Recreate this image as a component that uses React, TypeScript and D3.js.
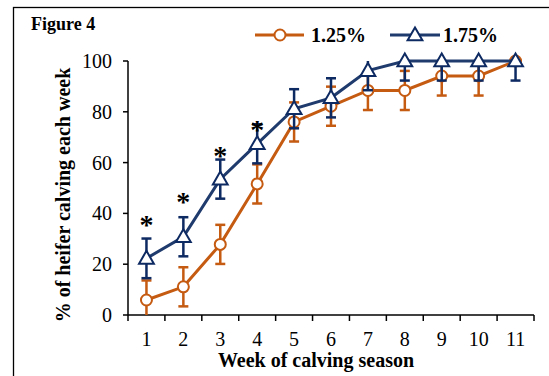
import React from "react";
import * as d3 from "d3";

// weeks of the calving season
const weeks = ["1", "2", "3", "4", "5", "6", "7", "8", "9", "10", "11"];
// cumulative % of heifers calved, 1.25% group
const low = [5.9, 11.1, 27.8, 51.6, 76.0, 82.2, 88.4, 88.4, 94.1, 94.1, 100];
const lowErr = [7.7, 7.7, 7.7, 7.7, 7.7, 7.7, 7.7, 7.7, 7.7, 7.7, 0];
// 1.75% group
const high = [22.3, 30.8, 53.5, 67.4, 81.2, 85.5, 96.2, 100, 100, 100, 100];
const highErr = [7.8, 7.7, 7.7, 7.7, 7.7, 7.7, 7.7, 7.7, 7.7, 7.7, 7.7];
// significance stars (week, height on y scale)
const starWeeks = ["1", "2", "3", "4"];
const starLevels = [37.5, 46.5, 64.5, 75];
const yTicks = [0, 20, 40, 60, 80, 100];

const ORANGE = "#C55A11";
const BLUE = "#1F3A6C";
const BLUE_ERR = "#0E2A62";
const FONT = "Liberation Serif, DejaVu Serif, serif";

const margin = { left: 128, right: 15, top: 61, bottom: 61 };
const W = 549;
const H = 376;

export default function App() {
  const x = d3
    .scaleBand()
    .domain(weeks)
    .range([margin.left, W - margin.right]);
  const y = d3
    .scaleLinear()
    .domain([0, 100])
    .range([H - margin.bottom, margin.top]);
  const cx = (w: string) => (x(w) as number) + x.bandwidth() / 2;
  const clamp = (v: number) => Math.max(0, Math.min(100, v));

  const line = d3
    .line<number>()
    .x((d, i) => cx(weeks[i]))
    .y(d => y(d));

  const tri = d3.symbol().type(d3.symbolTriangle).size(95)();

  const errBars = (vals: number[], errs: number[], color: string) =>
    vals.map((v, i) => {
      if (!errs[i]) return null;
      const px = cx(weeks[i]);
      const top = clamp(v + errs[i]);
      const bot = clamp(v - errs[i]);
      return (
        <g key={"e" + i} stroke={color} strokeWidth={2.5}>
          <line x1={px} x2={px} y1={y(top)} y2={y(bot)} />
          {top < 100 && <line x1={px - 5} x2={px + 5} y1={y(top)} y2={y(top)} />}
          {bot > 0 && <line x1={px - 5} x2={px + 5} y1={y(bot)} y2={y(bot)} />}
        </g>
      );
    });

  const x0 = margin.left;
  const x1 = W - margin.right;
  const yBase = y(0);

  return (
    <svg
      width={W}
      height={H}
      style={{ position: "absolute", left: 0, top: 0, background: "#fff", fontFamily: FONT }}
    >
      <rect x={13.5} y={7.5} width={700} height={500} fill="none" stroke="#000" strokeWidth={1.3} />
      <text x={31} y={30} fontSize={18} fontWeight="bold">Figure 4</text>

      {/* legend */}
      <g>
        <line x1={255} x2={304} y1={35} y2={35} stroke={ORANGE} strokeWidth={3} />
        <circle cx={280} cy={35} r={5.5} fill="#fff" stroke={ORANGE} strokeWidth={2} />
        <text x={311} y={42} fontSize={20} fontWeight="bold">1.25%</text>
        <line x1={390} x2={440} y1={35} y2={35} stroke={BLUE} strokeWidth={3} />
        <path d={tri as string} transform="translate(415,36)" fill="#fff" stroke={BLUE_ERR} strokeWidth={2} />
        <text x={443} y={42} fontSize={20} fontWeight="bold">1.75%</text>
      </g>

      {/* axes */}
      <g stroke="#000" strokeWidth={1.5}>
        <line x1={x0} x2={x0} y1={y(100)} y2={yBase} />
        <line x1={x0} x2={x1} y1={yBase} y2={yBase} />
        {yTicks.map(t => (
          <line key={t} x1={x0 - 5} x2={x0} y1={y(t)} y2={y(t)} />
        ))}
        {weeks.map(w => (
          <line key={w} x1={x(w) as number} x2={x(w) as number} y1={yBase} y2={yBase + 6} />
        ))}
        <line x1={x1} x2={x1} y1={yBase} y2={yBase + 6} />
      </g>
      {yTicks.map(t => (
        <text key={t} x={112} y={y(t) + 7} fontSize={20} textAnchor="end">{t}</text>
      ))}
      {weeks.map(w => (
        <text key={w} x={cx(w)} y={346} fontSize={20} textAnchor="middle">{w}</text>
      ))}
      <text x={316} y={367} fontSize={20} fontWeight="bold" textAnchor="middle">
        Week of calving season
      </text>
      <text
        transform="translate(70,195) rotate(-90)"
        fontSize={20}
        fontWeight="bold"
        textAnchor="middle"
      >
        % of heifer calving each week
      </text>

      {/* 1.25% series */}
      {errBars(low, lowErr, ORANGE)}
      <path d={line(low) as string} fill="none" stroke={ORANGE} strokeWidth={3} />
      {low.map((v, i) => (
        <circle key={i} cx={cx(weeks[i])} cy={y(v)} r={5.5} fill="#fff" stroke={ORANGE} strokeWidth={2} />
      ))}

      {/* 1.75% series */}
      {errBars(high, highErr, BLUE_ERR)}
      <path d={line(high) as string} fill="none" stroke={BLUE} strokeWidth={3} />
      {high.map((v, i) => (
        <path
          key={i}
          d={tri as string}
          transform={`translate(${cx(weeks[i])},${y(v) + 1})`}
          fill="#fff"
          stroke={BLUE_ERR}
          strokeWidth={2}
        />
      ))}

      {starWeeks.map((w, i) => (
        <text key={w} x={cx(w)} y={y(starLevels[i]) + 14} fontSize={28} fontWeight="bold" textAnchor="middle">*</text>
      ))}
    </svg>
  );
}
